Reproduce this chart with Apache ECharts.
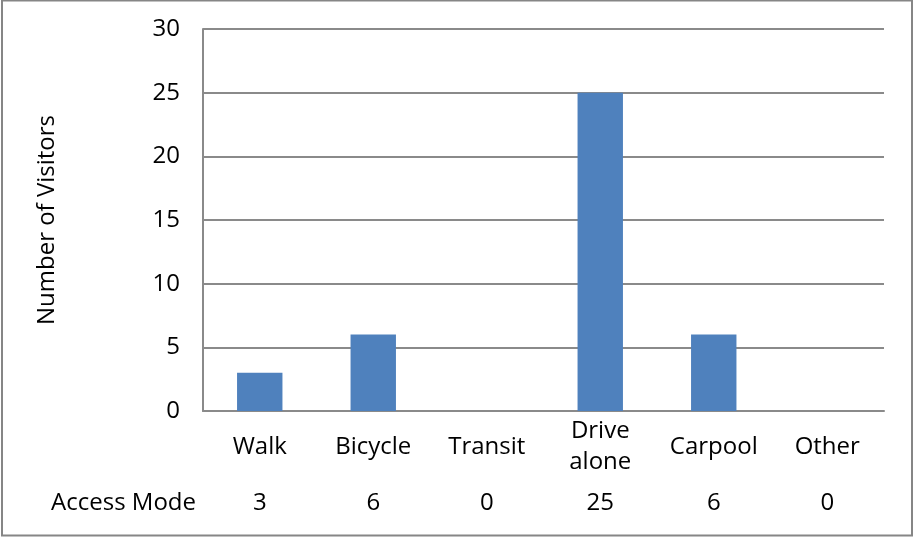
<!DOCTYPE html>
<html>
<head>
<meta charset="utf-8">
<style>
  html, body { margin: 0; padding: 0; background: #fff; }
  #chart { width: 913px; height: 539px; }
</style>
<script src="https://cdn.jsdelivr.net/npm/echarts@6/dist/echarts.min.js"></script>
</head>
<body>
<div id="chart"></div>
<script>
// Access modes and visitor counts
const categories = ['Walk', 'Bicycle', 'Transit', 'Drive\nalone', 'Carpool', 'Other'];
const visitors = [3, 6, 0, 25, 6, 0];
const yTicks = { min: 0, max: 30, interval: 5 };
const tableRowLabel = 'Access Mode';
const yAxisTitle = 'Number of Visitors';

const FONT = '"Open Sans", "Noto Sans", sans-serif';
const FS = 24;
const GRID_GRAY = '#8a8a8a';

const chart = echarts.init(document.getElementById('chart'), null, { renderer: 'canvas' });

chart.setOption({
  animation: false,
  backgroundColor: '#ffffff',
  textStyle: { fontFamily: FONT, color: '#000' },
  grid: { left: 203, right: 29, top: 29, bottom: 128, containLabel: false },
  xAxis: [
    {
      type: 'category',
      data: categories,
      position: 'bottom',
      axisLine: { show: true, lineStyle: { color: GRID_GRAY, width: 2 } },
      axisTick: { show: false },
      axisLabel: {
        interval: 0,
        margin: 36,
        verticalAlign: 'middle',
        fontSize: FS,
        lineHeight: 31,
        color: '#000',
        fontFamily: FONT
      }
    },
    {
      // data table row under the category labels
      type: 'category',
      data: categories,
      position: 'bottom',
      offset: 92,
      axisLine: { show: false },
      axisTick: { show: false },
      axisLabel: {
        interval: 0,
        margin: 0,
        verticalAlign: 'middle',
        fontSize: FS,
        color: '#000',
        fontFamily: FONT,
        formatter: (v, i) => String(visitors[i])
      },
      name: tableRowLabel,
      nameLocation: 'start',
      nameGap: 7,
      nameTextStyle: {
        fontSize: FS,
        color: '#000',
        fontFamily: FONT,
        align: 'right',
        verticalAlign: 'middle'
      }
    }
  ],
  yAxis: {
    type: 'value',
    min: yTicks.min,
    max: yTicks.max,
    interval: yTicks.interval,
    axisLine: { show: true, lineStyle: { color: GRID_GRAY, width: 2 } },
    axisTick: { show: false },
    splitLine: { show: true, lineStyle: { color: GRID_GRAY, width: 2 } },
    axisLabel: { margin: 23, fontSize: FS, color: '#000', fontFamily: FONT },
    name: yAxisTitle,
    nameLocation: 'middle',
    nameGap: 144,
    nameTextStyle: { fontSize: FS, color: '#000', fontFamily: FONT }
  },
  series: [
    {
      type: 'bar',
      xAxisIndex: 0,
      data: visitors,
      barWidth: '40%',
      itemStyle: { color: '#4f81bd' }
    }
  ],
  graphic: [
    {
      type: 'rect',
      shape: { x: 2, y: 0.5, width: 910, height: 535 },
      style: { fill: null, stroke: '#868686', lineWidth: 2 },
      silent: true
    }
  ]
});
</script>
</body>
</html>
